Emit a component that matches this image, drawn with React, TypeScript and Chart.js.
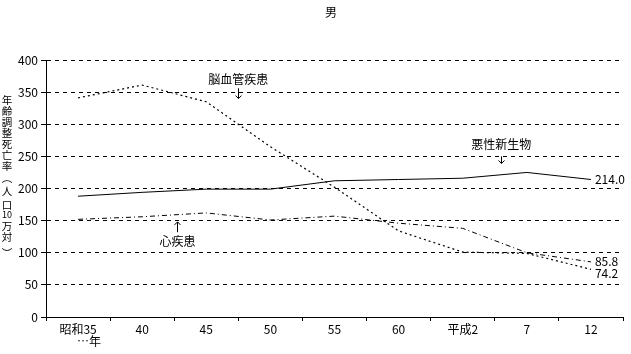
import React, { useEffect, useRef } from "react";
import { Chart, registerables } from "chart.js";

Chart.register(...registerables);

const categories = ["昭和35", "40", "45", "50", "55", "60", "平成2", "7", "12"];
const cerebrovascular = [341, 361, 335, 265, 202, 134, 101, 99, 74.2];
const neoplasm = [188, 194, 199, 199, 212, 214, 216, 225, 214.0];
const heart = [152, 156, 162, 151, 157, 146, 138, 100, 85.8];
const yTicks = [0, 50, 100, 150, 200, 250, 300, 350, 400];
const endLabels = ["214.0", "85.8", "74.2"];
const yTitleChars = ["年", "齢", "調", "整", "死", "亡", "率", "︵", "人", "口", "10", "万", "対", "︶"];
const yTitleYs = [100, 111.5, 122.5, 133.5, 144.5, 155.5, 166.5, 178, 191.5, 205, 215, 226, 237, 253];

const FONT = '"Noto Sans CJK JP", "DejaVu Sans", sans-serif';

const overlay = {
  id: "overlay",
  afterDraw(chart: any) {
    const ctx = chart.ctx;
    const xs = chart.scales.x;
    const ys = chart.scales.y;
    ctx.save();
    ctx.fillStyle = "#000";
    ctx.strokeStyle = "#000";
    ctx.lineWidth = 1;
    ctx.textBaseline = "middle";

    // title
    ctx.font = `12px ${FONT}`;
    ctx.textAlign = "center";
    ctx.fillText("男", 331, 12);

    // y title vertical
    yTitleChars.forEach((c, i) => {
      ctx.font = c === "10" ? `9px ${FONT}` : `10.5px ${FONT}`;
      ctx.fillText(c, 7, yTitleYs[i]);
    });

    // x sub label
    ctx.font = `12px ${FONT}`;
    ctx.fillText("…年", xs.getPixelForValue(0) + 11, 341);

    // end labels
    ctx.textAlign = "left";
    ctx.font = `12px ${FONT}`;
    const xe = xs.getPixelForValue(8) + 4;
    ctx.fillText(endLabels[0], xe, ys.getPixelForValue(neoplasm[8]));
    ctx.fillText(endLabels[1], xe, ys.getPixelForValue(heart[8]));
    ctx.fillText(endLabels[2], xe, ys.getPixelForValue(cerebrovascular[8]) + 4);

    // annotations
    ctx.textAlign = "center";
    const arrow = (x: number, y1: number, y2: number) => {
      ctx.beginPath();
      ctx.moveTo(x + 0.5, y1);
      ctx.lineTo(x + 0.5, y2);
      ctx.stroke();
      const dir = y2 > y1 ? -1 : 1;
      ctx.beginPath();
      ctx.moveTo(x + 0.5 - 3, y2 + dir * 3);
      ctx.lineTo(x + 0.5, y2);
      ctx.lineTo(x + 0.5 + 3, y2 + dir * 3);
      ctx.stroke();
    };
    let ax = xs.getPixelForValue(2.5);
    ctx.fillText("脳血管疾患", ax, ys.getPixelForValue(370));
    arrow(Math.round(ax), ys.getPixelForValue(356), ys.getPixelForValue(340));
    ax = xs.getPixelForValue(6.6);
    ctx.fillText("悪性新生物", ax, ys.getPixelForValue(268));
    arrow(Math.round(ax), ys.getPixelForValue(250), ys.getPixelForValue(239));
    ax = xs.getPixelForValue(1.55);
    ctx.fillText("心疾患", ax, ys.getPixelForValue(117));
    arrow(Math.round(ax), ys.getPixelForValue(132), ys.getPixelForValue(148));
    ctx.restore();
  },
};

export default function App() {
  const ref = useRef<HTMLCanvasElement>(null);
  useEffect(() => {
    document.body.style.margin = "0";
    const chart = new Chart(ref.current!, {
      type: "line",
      data: {
        labels: categories,
        datasets: [
          {
            label: "脳血管疾患",
            data: cerebrovascular,
            borderColor: "#000",
            borderWidth: 1.2,
            borderDash: [2, 3],
            pointRadius: 0,
            tension: 0,
          },
          {
            label: "悪性新生物",
            data: neoplasm,
            borderColor: "#000",
            borderWidth: 1,
            pointRadius: 0,
            tension: 0,
          },
          {
            label: "心疾患",
            data: heart,
            borderColor: "#000",
            borderWidth: 1,
            borderDash: [5, 3, 1, 3],
            pointRadius: 0,
            tension: 0,
          },
        ],
      },
      options: {
        animation: false,
        responsive: false,
        maintainAspectRatio: false,
        layout: { padding: { left: 0, top: 60, right: 8, bottom: 0 } },
        plugins: {
          legend: { display: false },
          tooltip: { enabled: false },
          title: { display: false },
        },
        scales: {
          x: {
            type: "category",
            offset: true,
            grid: {
              offset: true,
              drawOnChartArea: false,
              drawTicks: true,
              tickLength: 4,
              color: "#000",
            },
            border: { color: "#000", width: 1 },
            ticks: {
              color: "#000",
              font: { family: FONT, size: 12 },
              padding: 1,
              maxRotation: 0,
              autoSkip: false,
            },
            afterFit: (s: any) => {
              s.height = 37;
            },
          },
          y: {
            min: 0,
            max: 400,
            afterBuildTicks: (s: any) => {
              s.ticks = yTicks.map((v) => ({ value: v }));
            },
            grid: {
              color: "#000",
              drawTicks: true,
              tickLength: 5,
              tickBorderDash: [],
            },
            border: { color: "#000", width: 1, dash: [4, 4] },
            ticks: {
              color: "#000",
              font: { family: FONT, size: 12 },
              padding: 3,
            },
            afterFit: (s: any) => {
              s.width = 46;
            },
          },
        },
      },
      plugins: [overlay],
    });
    return () => chart.destroy();
  }, []);
  return (
    <div style={{ width: 631, height: 354 }}>
      <canvas ref={ref} width={631} height={354} style={{ display: "block" }} />
    </div>
  );
}
